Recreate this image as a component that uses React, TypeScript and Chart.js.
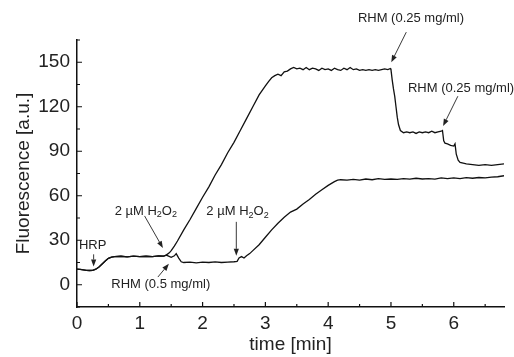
import { useEffect, useRef } from "react";
import { Chart, registerables } from "chart.js";

Chart.register(...registerables);

// ---- data (time in min, fluorescence in a.u.) ----
const baseT = [0, 0.05, 0.1, 0.15, 0.2, 0.25, 0.3, 0.35, 0.4, 0.45, 0.5, 0.55, 0.6, 0.7, 0.8, 0.9, 1.0, 1.1, 1.2, 1.3, 1.38, 1.42];
const baseV = [10.5, 10.3, 10.0, 9.7, 9.6, 9.7, 10.5, 12.0, 14.0, 16.0, 17.8, 18.6, 18.9, 19.2, 18.8, 19.3, 18.9, 19.2, 19.0, 19.4, 19.3, 20.0];

const upperT = [1.47, 1.5, 1.55, 1.6, 1.7, 1.8, 1.9, 2.0, 2.1, 2.2, 2.3, 2.4, 2.5, 2.6, 2.7, 2.8, 2.9, 3.0,
  3.05, 3.1, 3.15, 3.2, 3.25, 3.3, 3.35, 3.4, 3.45, 3.5, 3.55, 3.6, 3.65, 3.7, 3.75, 3.8, 3.85, 3.9, 3.95, 4.0,
  4.05, 4.1, 4.15, 4.2, 4.25, 4.3, 4.35, 4.4, 4.45, 4.5, 4.55, 4.6, 4.65, 4.7, 4.75, 4.8, 4.85, 4.9, 4.95,
  4.99, 5.0, 5.02, 5.04, 5.06, 5.08, 5.1, 5.12, 5.15,
  5.2, 5.25, 5.3, 5.35, 5.4, 5.45, 5.5, 5.55, 5.6, 5.65, 5.7, 5.75, 5.8,
  5.82, 5.84, 5.86, 5.9, 5.95, 6.0, 6.02, 6.04, 6.07, 6.1, 6.15, 6.2, 6.3, 6.4, 6.5, 6.6, 6.7, 6.8];
const upperV = [21.5, 23, 26, 29.5, 37, 44, 51.5, 59, 66, 74, 81, 89, 96, 104, 112, 120, 128, 134,
  137, 139.5, 141, 142, 141, 143.5, 144, 145.5, 146.5, 145.5, 146, 145, 146.5, 145, 146, 145.5, 144.5, 146, 145, 145.5,
  144.5, 146, 145, 144.5, 146, 145, 146.5, 145, 145.5, 144.5, 145, 144.5, 145, 144.5, 145, 144.5, 145, 145.5, 145,
  145.8, 145, 138, 132, 127, 120, 113, 108, 104,
  102.5, 103, 102.5, 103, 102, 103, 102.5, 103, 102.5, 103.5, 102.5, 103, 103.5,
  104, 97, 95.5, 95, 94, 93.5, 95, 88, 84, 82.5, 82, 81.5, 81, 80.5, 81, 80.5, 81, 81.5];

const lowerT = [1.45, 1.5, 1.55, 1.58, 1.62, 1.66, 1.7, 1.8, 1.9, 2.0, 2.1, 2.2, 2.3, 2.4, 2.5, 2.55, 2.58, 2.62, 2.66,
  2.7, 2.75, 2.8, 2.9, 3.0, 3.1, 3.2, 3.3, 3.4, 3.5, 3.6, 3.7, 3.8, 3.9, 4.0, 4.1, 4.15,
  4.2, 4.3, 4.4, 4.5, 4.6, 4.7, 4.8, 4.9, 5.0, 5.1, 5.2, 5.3, 5.4, 5.5, 5.6, 5.7, 5.8, 5.9, 6.0, 6.1, 6.2, 6.3, 6.4, 6.5, 6.6, 6.7, 6.8];
const lowerV = [19.5, 18.5, 19.5, 21, 18, 15.5, 15, 15.3, 14.8, 15.2, 15, 15.4, 15, 15.3, 15.5, 15.8, 18, 19, 18,
  19.5, 21, 23, 27, 32, 37, 41.5, 45.5, 49, 51, 54.5, 57.5, 61, 64, 67, 69.5, 70.5,
  70.8, 70.5, 71, 70.5, 71.3, 70.8, 71.5, 71, 71.3, 71, 71.5, 71.2, 71.8, 71.3, 71.6, 71.2, 72, 71.5, 72, 71.6, 72.2, 71.8, 72.3, 72, 72.5, 72.8, 73.5];

const xTicks = [0, 1, 2, 3, 4, 5, 6];
const xMinorTicks = [0.5, 1.5, 2.5, 3.5, 4.5, 5.5, 6.5];
const yTicks = [0, 30, 60, 90, 120, 150];
const yMinorTicks = [-15, 15, 45, 75, 105, 135, 165];

// annotations: [text, textX, textY, arrowFromX, arrowFromY, arrowToX, arrowToY, align]
type Note = { label: string; tx: number; ty: number; ax: number; ay: number; bx: number; by: number; align: "left" | "center" };
const notes: Note[] = [
  { label: "HRP", tx: 0.25, ty: 26.2, ax: 0.265, ay: 20.5, bx: 0.265, by: 12.3, align: "center" },
  { label: "2 µM H_2O_2", tx: 0.6, ty: 49.5, ax: 1.076, ay: 46.4, bx: 1.368, by: 24.7, align: "left" },
  { label: "RHM (0.5 mg/ml)", tx: 0.546, ty: 0.5, ax: 1.288, ay: 5.2, bx: 1.463, by: 14.1, align: "left" },
  { label: "2 µM H_2O_2", tx: 2.06, ty: 49.3, ax: 2.537, ay: 42.4, bx: 2.537, by: 19.5, align: "left" },
  { label: "RHM (0.25 mg/ml)", tx: 4.473, ty: 179.4, ax: 5.244, ay: 170.3, bx: 5.005, by: 150, align: "left" },
  { label: "RHM (0.25 mg/ml)", tx: 5.27, ty: 132.3, ax: 6.065, ay: 127.1, bx: 5.83, by: 107, align: "left" },
];

const FONT = "'Liberation Sans', Arial, Helvetica, sans-serif";

function zip(t: number[], v: number[]) {
  return t.map((x, i) => ({ x, y: v[i] }));
}

function drawRich(ctx: CanvasRenderingContext2D, label: string, x: number, y: number, align: "left" | "center") {
  // parse "_2" as subscript 2
  const parts: { s: string; sub: boolean }[] = [];
  let buf = "";
  for (let i = 0; i < label.length; i++) {
    if (label[i] === "_") {
      if (buf) parts.push({ s: buf, sub: false });
      buf = "";
      parts.push({ s: label[i + 1], sub: true });
      i++;
    } else buf += label[i];
  }
  if (buf) parts.push({ s: buf, sub: false });
  const big = `13px ${FONT}`;
  const small = `9px ${FONT}`;
  let total = 0;
  for (const p of parts) {
    ctx.font = p.sub ? small : big;
    total += ctx.measureText(p.s).width;
  }
  let cx = align === "center" ? x - total / 2 : x;
  ctx.textAlign = "left";
  ctx.textBaseline = "middle";
  for (const p of parts) {
    ctx.font = p.sub ? small : big;
    ctx.fillText(p.s, cx, p.sub ? y + 3.5 : y);
    cx += ctx.measureText(p.s).width;
  }
}

function drawArrow(ctx: CanvasRenderingContext2D, x1: number, y1: number, x2: number, y2: number) {
  const ang = Math.atan2(y2 - y1, x2 - x1);
  const hl = 7, hw = 2.6;
  const bx = x2 - hl * Math.cos(ang), by = y2 - hl * Math.sin(ang);
  ctx.beginPath();
  ctx.moveTo(x1, y1);
  ctx.lineTo(bx, by);
  ctx.lineWidth = 0.9;
  ctx.stroke();
  ctx.beginPath();
  ctx.moveTo(x2, y2);
  ctx.lineTo(bx + hw * Math.sin(ang), by - hw * Math.cos(ang));
  ctx.lineTo(bx - hw * Math.sin(ang), by + hw * Math.cos(ang));
  ctx.closePath();
  ctx.fill();
}

const decorPlugin = {
  id: "decor",
  afterDraw(chart: any) {
    const ctx: CanvasRenderingContext2D = chart.ctx;
    const xs = chart.scales.x, ys = chart.scales.y;
    ctx.save();
    ctx.strokeStyle = "#111";
    ctx.fillStyle = "#111";
    ctx.lineWidth = 1.2;
    // inward ticks
    const yb = ys.bottom, xl = xs.left;
    ctx.beginPath();
    for (const v of xTicks) { const p = xs.getPixelForValue(v); ctx.moveTo(p, yb); ctx.lineTo(p, yb - 5); }
    for (const v of xMinorTicks) { const p = xs.getPixelForValue(v); ctx.moveTo(p, yb); ctx.lineTo(p, yb - 3); }
    for (const v of yTicks) { const p = ys.getPixelForValue(v); ctx.moveTo(xl, p); ctx.lineTo(xl + 5, p); }
    for (const v of yMinorTicks) { const p = ys.getPixelForValue(v); ctx.moveTo(xl, p); ctx.lineTo(xl + 3, p); }
    ctx.stroke();
    // annotations
    ctx.fillStyle = "#222";
    ctx.strokeStyle = "#222";
    for (const n of notes) {
      drawRich(ctx, n.label, xs.getPixelForValue(n.tx), ys.getPixelForValue(n.ty), n.align);
      drawArrow(ctx, xs.getPixelForValue(n.ax), ys.getPixelForValue(n.ay), xs.getPixelForValue(n.bx), ys.getPixelForValue(n.by));
    }
    ctx.restore();
  },
};

export default function App() {
  const ref = useRef<HTMLCanvasElement>(null);
  useEffect(() => {
    document.body.style.margin = "0";
    const c = new Chart(ref.current!, {
      type: "scatter",
      data: {
        datasets: [
          { data: zip([...baseT, ...upperT], [...baseV, ...upperV]), showLine: true, borderColor: "#111", borderWidth: 1.3, pointRadius: 0, tension: 0 },
          { data: zip([...baseT, ...lowerT], [...baseV, ...lowerV]), showLine: true, borderColor: "#111", borderWidth: 1.3, pointRadius: 0, tension: 0 },
        ],
      },
      options: {
        responsive: false,
        animation: false,
        devicePixelRatio: 1,
        layout: { padding: { left: 0, right: 10, top: 40, bottom: 0 } },
        plugins: { legend: { display: false }, tooltip: { enabled: false } },
        scales: {
          x: {
            type: "linear",
            min: 0,
            max: 6.8,
            afterBuildTicks: (s: any) => { s.ticks = xTicks.map((value) => ({ value })); },
            afterFit: (s: any) => { s.height = 50; },
            grid: { display: false, drawTicks: false },
            border: { display: true, color: "#111", width: 1.5 },
            ticks: { font: { family: FONT, size: 19 }, color: "#222", padding: 5, maxRotation: 0 },
            title: { display: true, text: "time [min]", font: { family: FONT, size: 19 }, color: "#222", padding: { top: 0, bottom: 1 } },
          },
          y: {
            type: "linear",
            min: -15,
            max: 165,
            afterBuildTicks: (s: any) => { s.ticks = yTicks.map((value) => ({ value })); },
            afterFit: (s: any) => { s.width = 77; },
            grid: { display: false, drawTicks: false },
            border: { display: true, color: "#111", width: 1.5 },
            ticks: { font: { family: FONT, size: 19 }, color: "#222", padding: 7 },
            title: { display: true, text: "Fluorescence [a.u.]", font: { family: FONT, size: 19 }, color: "#222", padding: { top: 12, bottom: 0 } },
          },
        },
      },
      plugins: [decorPlugin],
    });
    return () => c.destroy();
  }, []);
  return (
    <div style={{ position: "absolute", left: 0, top: 0, width: 514, height: 357, background: "#fff" }}>
      <canvas ref={ref} width={514} height={357} />
    </div>
  );
}
